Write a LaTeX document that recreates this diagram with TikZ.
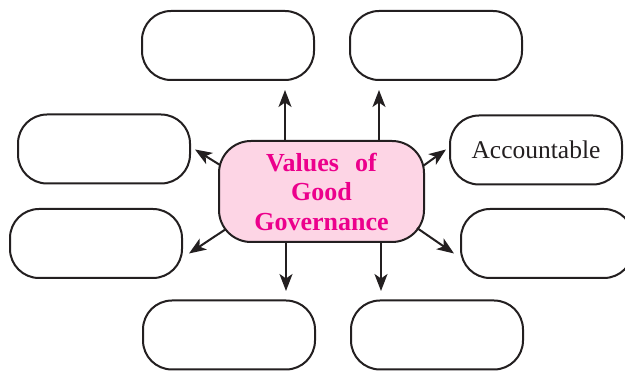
\documentclass[tikz,border=0pt]{standalone}
\usepackage{fontspec}
\setmainfont{Liberation Serif}
\usetikzlibrary{arrows.meta}
\definecolor{inkc}{HTML}{231F20}
\definecolor{magc}{HTML}{EC008C}
\definecolor{pinkc}{HTML}{FDD5E5}
\tikzset{
  valbox/.style={draw=inkc, line width=2pt, rounded corners=29pt, minimum width=172pt, minimum height=69pt, fill=white, inner sep=0pt, text=inkc, font=\fontsize{25.5}{29.5}\selectfont},
  hubbox/.style={draw=inkc, line width=2pt, rounded corners=32pt, minimum width=205pt, minimum height=101pt, fill=pinkc, inner sep=0pt, align=center, text=magc, font=\fontsize{26}{29.5}\selectfont\bfseries},
  arr/.style={draw=inkc, line width=2pt, -{Stealth[length=17pt, width=13pt, inset=4.5pt]}}
}
\begin{document}
\begin{tikzpicture}[x=1pt, y=-1pt]
\useasboundingbox (0,0) rectangle (625,371);
\clip (0,0) rectangle (625,371);
\fill[white] (0,0) rectangle (625,371);
% outer boxes
\node[valbox] (tl) at (228,45.5) {};
\node[valbox] (tr) at (436,45.5) {};
\node[valbox] (l1) at (104,149) {};
\node[valbox] (acc) at (536,150) {Accountable};
\node[valbox] (l2) at (96,243.5) {};
\node[valbox] (r2) at (547,243.5) {};
\node[valbox] (bl) at (229,335) {};
\node[valbox] (br) at (437,335) {};
% hub
\node[hubbox] (hub) at (321.5,191.5) {Values\hspace{0.62em}of\\Good\\Governance};
% arrow tips
\coordinate (ttl) at (285,90);
\coordinate (ttr) at (379,90);
\coordinate (tbl) at (286,291);
\coordinate (tbr) at (381,291);
\coordinate (tul) at (195,149.5);
\coordinate (tur) at (446,149.5);
\coordinate (tll) at (189,253.5);
\coordinate (tlr) at (454,253.5);
% arrow starts on hub border
\coordinate (sul) at (220,165);
\coordinate (sur) at (423,166);
\coordinate (sll) at (226,229);
\coordinate (slr) at (417,228);
% arrows
\draw[arr] (hub.north -| ttl) -- (ttl);
\draw[arr] (hub.north -| ttr) -- (ttr);
\draw[arr] (hub.south -| tbl) -- (tbl);
\draw[arr] (hub.south -| tbr) -- (tbr);
\draw[arr] (sul) -- (tul);
\draw[arr] (sur) -- (tur);
\draw[arr] (sll) -- (tll);
\draw[arr] (slr) -- (tlr);
\end{tikzpicture}
\end{document}
